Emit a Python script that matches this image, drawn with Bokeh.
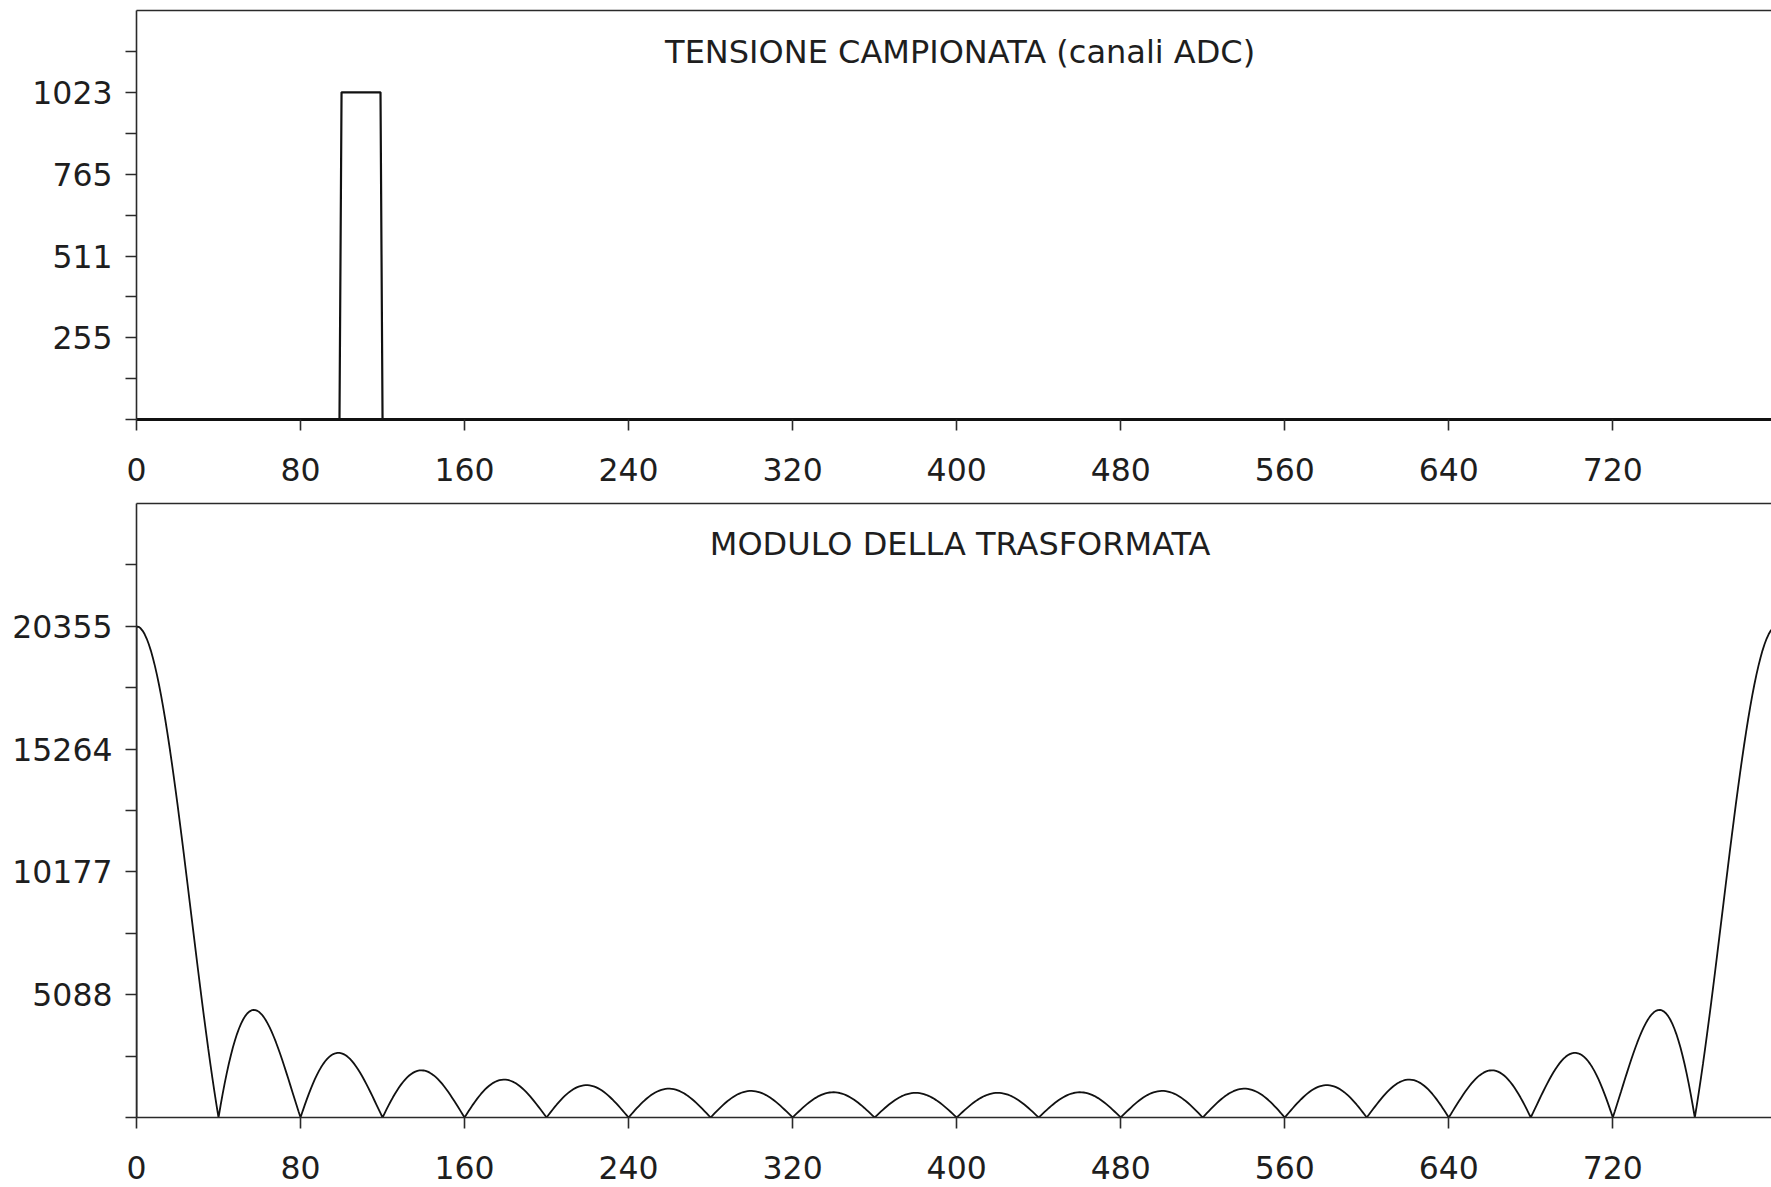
import numpy as np
from bokeh.plotting import figure
from bokeh.layouts import column
from bokeh.models import FixedTicker, LinearAxis, Label, Range1d
from bokeh.embed import file_html
from bokeh.resources import INLINE

# ---- data -----------------------------------------------------------------
N_SAMPLES = 800          # samples in the acquisition window
PULSE_START = 100        # first sample of the rectangular pulse
PULSE_LEN = 20           # pulse width in samples
ADC_FULL = 1023          # pulse amplitude (ADC channels)
SPECTRUM_PEAK = 20355    # full-scale value of the transform magnitude

SIGNAL_TICKS = [255, 511, 765, 1023]
SPECTRUM_TICKS = [5088, 10177, 15264, 20355]
X_TICKS = [0, 80, 160, 240, 320, 400, 480, 560, 640, 720]

TITLE_SIGNAL = "TENSIONE CAMPIONATA (canali ADC)"
TITLE_SPECTRUM = "MODULO DELLA TRASFORMATA"

# sampled voltage
n = np.arange(N_SAMPLES)
signal = np.zeros(N_SAMPLES)
signal[PULSE_START:PULSE_START + PULSE_LEN] = ADC_FULL

# magnitude of the DFT, expressed against its full-scale value
mag = np.abs(np.fft.fft(signal))
mag = mag * (SPECTRUM_PEAK / mag.max())
spec_x = np.concatenate([[0], n])
spec_y = np.concatenate([[0], mag])

# ---- styling ----------------------------------------------------------------
FONT = "DejaVu Sans"
TEXT = "#1e1e1e"
INK = "#111111"
W = 1771
X_END = 797.4


def make_panel(height, border_top, border_bottom, ymax, labelled, title, title_y,
               base_width=1.6):
    p = figure(width=W, height=height, output_backend="svg", toolbar_location=None,
               x_range=Range1d(0, X_END), y_range=Range1d(0, 1.25 * ymax),
               min_border_left=136, min_border_right=0,
               min_border_top=border_top, min_border_bottom=border_bottom,
               outline_line_color=None, background_fill_color="white",
               border_fill_color="white")
    p.xgrid.visible = False
    p.ygrid.visible = False

    unlabelled = [0] + [ymax * k / 8 for k in (1, 3, 5, 7, 9)]
    yax = p.left[0]
    yax.ticker = FixedTicker(ticks=labelled, minor_ticks=unlabelled)
    xax = p.below[0]
    xax.ticker = FixedTicker(ticks=X_TICKS, minor_ticks=[])

    for ax in (xax, yax):
        ax.axis_line_color = "#2a2a2a"
        ax.axis_line_width = 1.6
        ax.major_tick_line_color = "#2a2a2a"
        ax.major_tick_line_width = 1.6
        ax.minor_tick_line_color = "#2a2a2a"
        ax.minor_tick_line_width = 1.6
        ax.major_tick_in = 0
        ax.minor_tick_in = 0
        ax.major_tick_out = 11
        ax.minor_tick_out = 11
        ax.major_label_text_font = FONT
        ax.major_label_text_font_size = "31.5px"
        ax.major_label_text_color = TEXT
    yax.major_label_standoff = 13
    xax.major_label_standoff = 27
    xax.axis_line_width = base_width
    if base_width > 2:
        xax.axis_line_color = INK

    # top border of the frame
    top = LinearAxis(ticker=FixedTicker(ticks=[], minor_ticks=[]),
                     major_label_text_font_size="0px",
                     major_tick_out=0, major_tick_in=0,
                     minor_tick_out=0, minor_tick_in=0,
                     major_label_standoff=0,
                     axis_line_color="#2a2a2a", axis_line_width=1.6)
    p.add_layout(top, "above")

    p.add_layout(Label(x=(X_END + 6) / 2, y=title_y, text=title,
                       text_align="center", text_baseline="middle",
                       text_font=FONT, text_font_size="32px", text_color=TEXT))
    return p


# zero-level trace of the sampled voltage runs along the axis, hence the heavier base
p1 = make_panel(495, 10, 76, ADC_FULL, SIGNAL_TICKS, TITLE_SIGNAL, 1150, base_width=3.2)
p1.line(n, signal, line_color=INK, line_width=2.2)

p2 = make_panel(692, 8, 70, SPECTRUM_PEAK, SPECTRUM_TICKS, TITLE_SPECTRUM, 23750)
p2.line(spec_x, spec_y, line_color=INK, line_width=1.8)

layout = column(p1, p2, spacing=0)
open("out.html", "w").write(file_html(layout, INLINE))
